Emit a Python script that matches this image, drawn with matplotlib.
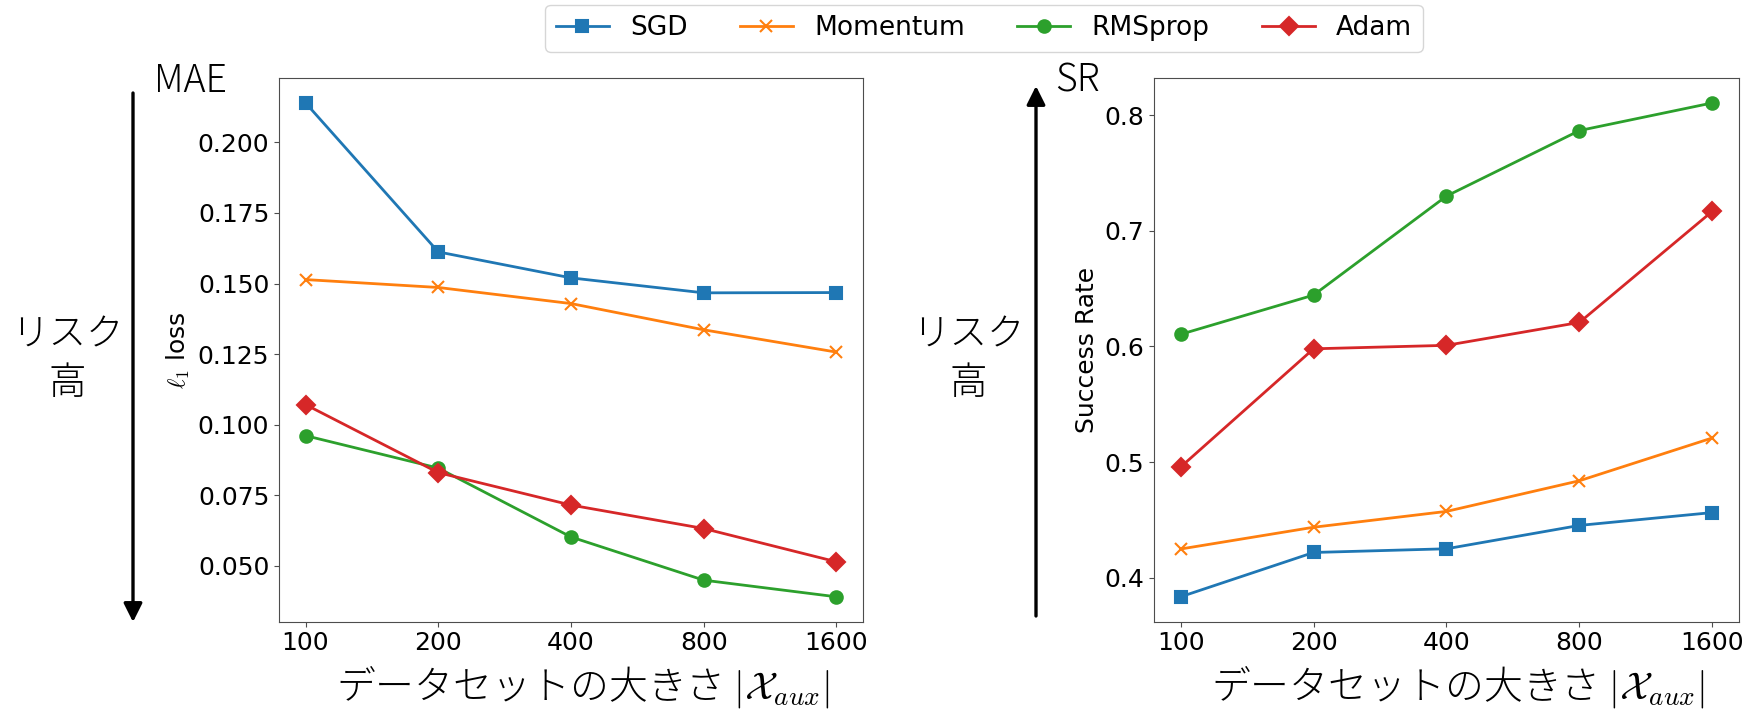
import matplotlib
matplotlib.use("Agg")
import matplotlib.pyplot as plt
from matplotlib.patches import FancyArrowPatch

plt.rcParams["mathtext.fontset"] = "cm"

# データ
sizes = ["100", "200", "400", "800", "1600"]
methods = ["SGD", "Momentum", "RMSprop", "Adam"]

mae_sgd = [0.2140, 0.1612, 0.1520, 0.1467, 0.1468]
mae_momentum = [0.1514, 0.1486, 0.1429, 0.1336, 0.1257]
mae_rmsprop = [0.0961, 0.0846, 0.0602, 0.0449, 0.0390]
mae_adam = [0.1071, 0.0830, 0.0715, 0.0632, 0.0514]

sr_sgd = [0.3837, 0.4220, 0.4252, 0.4454, 0.4565]
sr_momentum = [0.4250, 0.4438, 0.4575, 0.4840, 0.5210]
sr_rmsprop = [0.6105, 0.6444, 0.7300, 0.7866, 0.8105]
sr_adam = [0.4958, 0.5980, 0.6010, 0.6208, 0.7169]

colors = ["tab:blue", "tab:orange", "tab:green", "tab:red"]
markers = ["s", "x", "o", "D"]

jp_font = ["Noto Sans CJK JP", "DejaVu Sans"]
jp_weight = "light"
W, H = 1749, 711


def fx(px):
    return px / W


def fy(py):
    return 1 - py / H


def draw_lines(ax, series):
    x = range(len(sizes))
    lines = []
    for vals, name, c, m in zip(series, methods, colors, markers):
        ln, = ax.plot(x, vals, color=c, marker=m, markersize=9, lw=2,
                      markeredgewidth=1.5, label=name)
        lines.append(ln)
    ax.set_xticks(list(x))
    ax.set_xticklabels(sizes)
    ax.tick_params(labelsize=18, color="0.3")
    for s in ax.spines.values():
        s.set_edgecolor("0.3")
    ax.set_xlabel(r"データセットの大きさ $|\mathcal{X}_{aux}|$",
                  fontsize=28, family=jp_font, weight=jp_weight)
    ax.xaxis.set_label_coords(0.52, -0.079)
    ax.xaxis.label.set_va("top")
    return lines


fig = plt.figure(figsize=(W / 100, H / 100), dpi=100)

ax1 = fig.add_axes([fx(279), fy(621.5), fx(584), 543.3 / H])
lines = draw_lines(ax1, [mae_sgd, mae_momentum, mae_rmsprop, mae_adam])
ax1.set_ylabel(r"$\ell_1$ loss", fontsize=18)

ax2 = fig.add_axes([fx(1154), fy(621.5), fx(585), 543.3 / H])
draw_lines(ax2, [sr_sgd, sr_momentum, sr_rmsprop, sr_adam])
ax2.set_ylabel("Success Rate", fontsize=18)

# 矢印とラベル
arrow = dict(arrowstyle="-|>", lw=2.4, color="k", mutation_scale=28,
             shrinkA=0, shrinkB=0)
fig.add_artist(FancyArrowPatch((fx(133), fy(93)), (fx(133), fy(622)),
                               transform=fig.transFigure, **arrow))
fig.add_artist(FancyArrowPatch((fx(1036), fy(616)), (fx(1036), fy(86)),
                               transform=fig.transFigure, **arrow))

fig.text(fx(154), fy(92), "MAE", fontsize=27, family=jp_font,
         weight=jp_weight, va="baseline")
fig.text(fx(1055), fy(92), "SR", fontsize=27, family=jp_font,
         weight=jp_weight, va="baseline")
for cx in (67, 968):
    fig.text(fx(cx), fy(359), "リスク\n高", fontsize=27, family=jp_font,
             weight=jp_weight, ha="center", va="center",
             multialignment="center", linespacing=1.3)

fig.legend(lines, methods, loc="upper center", ncol=4, fontsize=19,
           bbox_to_anchor=(fx(984), fy(4.5)), borderaxespad=0)

fig.savefig("out.png", dpi=100)
